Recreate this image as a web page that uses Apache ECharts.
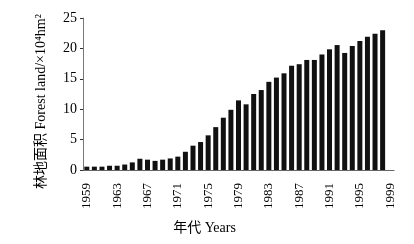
<!DOCTYPE html>
<html>
<head>
<meta charset="utf-8">
<script src="https://cdn.jsdelivr.net/npm/echarts@6/dist/echarts.min.js"></script>
<style>
  html, body { margin: 0; padding: 0; background: #fff; }
  #chart { width: 414px; height: 244px; }
</style>
</head>
<body>
<div id="chart"></div>
<script>
// years 1959 - 1999 (last year has no bar)
const years = []
for (let y = 1959; y <= 1999; y++) years.push(String(y))

// forest land area, x10^4 hm^2
const forestArea = [
  0.55, 0.55, 0.55, 0.7, 0.7, 0.9, 1.25, 1.85, 1.7, 1.5,
  1.7, 1.9, 2.2, 3.0, 4.0, 4.6, 5.7, 7.05, 8.6, 9.9,
  11.45, 10.8, 12.5, 13.15, 14.5, 15.2, 15.9, 17.15, 17.4, 18.1,
  18.1, 19.0, 19.85, 20.55, 19.25, 20.4, 21.2, 21.9, 22.4, 23.0,
  null
]

const yTicks = [0, 5, 10, 15, 20, 25]

const serif = '"Liberation Serif", "Times New Roman", "Noto Sans CJK SC", serif'

const chart = echarts.init(document.getElementById('chart'))
chart.setOption({
  animation: false,
  grid: {
    left: 83,
    right: 20,
    top: 18,
    bottom: 74
  },
  xAxis: {
    type: 'category',
    data: years,
    boundaryGap: true,
    name: '年代 Years',
    nameLocation: 'middle',
    nameGap: 51,
    nameTextStyle: {
      fontFamily: serif,
      fontSize: 14,
      color: '#000',
      padding: [0, 68, 0, 0]
    },
    axisLine: {
      lineStyle: { color: '#666', width: 1 }
    },
    axisTick: { show: false },
    axisLabel: {
      interval: 3,
      rotate: 90,
      margin: 13,
      fontFamily: serif,
      fontSize: 13,
      color: '#000'
    },
    splitLine: { show: false }
  },
  yAxis: {
    type: 'value',
    min: yTicks[0],
    max: yTicks[yTicks.length - 1],
    interval: 5,
    name: '林地面积 Forest land/×10⁴hm²',
    nameLocation: 'middle',
    nameGap: 35,
    nameRotate: 90,
    nameTextStyle: {
      fontFamily: serif,
      fontSize: 14,
      color: '#000',
      padding: [0, 15, 0, 0]
    },
    axisLine: {
      show: true,
      lineStyle: { color: '#777', width: 1 }
    },
    axisTick: {
      show: true,
      length: 3,
      lineStyle: { color: '#333' }
    },
    axisLabel: {
      margin: 6,
      fontFamily: serif,
      fontSize: 14,
      color: '#000'
    },
    splitLine: { show: false }
  },
  series: [{
    type: 'bar',
    data: forestArea,
    barWidth: 5,
    itemStyle: { color: '#111' }
  }]
})
</script>
</body>
</html>
